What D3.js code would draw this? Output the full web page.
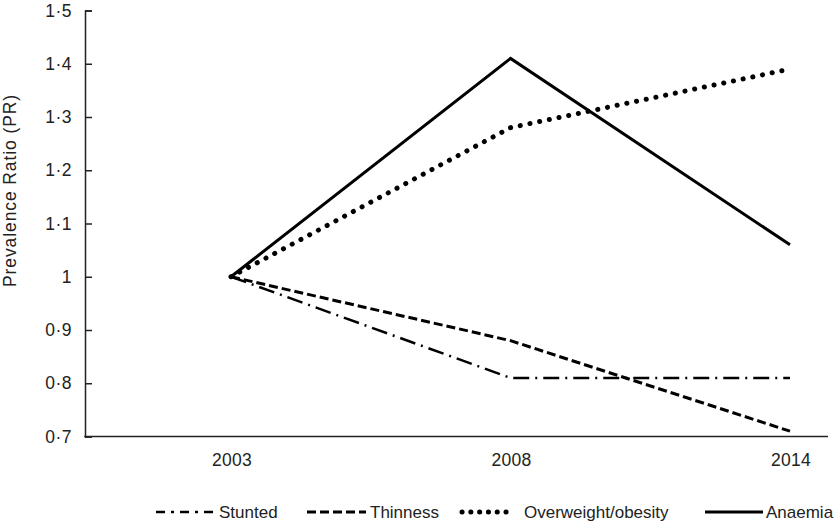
<!DOCTYPE html>
<html><head><meta charset="utf-8">
<script src="https://cdn.jsdelivr.net/npm/d3@7"></script>
<style>body{margin:0;background:#fff}text{font-family:"Liberation Sans",Arial,sans-serif;fill:#222}</style>
</head><body><svg id="c" width="835" height="523"></svg>
<script>
const years = ["2003","2008","2014"];
const stunted = [1.00, 0.81, 0.81];
const thinness = [1.00, 0.88, 0.71];
const overweight = [1.00, 1.28, 1.39];
const anaemia = [1.00, 1.41, 1.06];
const yTicks = [0.7,0.8,0.9,1.0,1.1,1.2,1.3,1.4,1.5];
const seriesNames = ["Stunted","Thinness","Overweight/obesity","Anaemia"];

const styles = {
  "Stunted": {dash:"16,6,2,6", w:2.5, cap:"butt", legDash:"9,6,3,6"},
  "Thinness": {dash:"9,4", w:3, cap:"butt", legDash:"9,4"},
  "Overweight/obesity": {dash:"0.1,9.8", w:5, cap:"round", legDash:"0.1,8.7"},
  "Anaemia": {dash:null, w:3, cap:"butt", legDash:null}
};
const data = {"Stunted":stunted,"Thinness":thinness,"Overweight/obesity":overweight,"Anaemia":anaemia};

const svg = d3.select("#c");
const x = d3.scalePoint().domain(years).range([231,790]);
const y = d3.scaleLinear().domain([0.7,1.5]).range([436.5,10.5]);
const fmt = d => (d===1 ? "1" : d3.format(".1f")(d).replace(".","·"));

const yAxis = d3.axisLeft(y).tickValues(yTicks).tickSize(-7).tickPadding(13).tickFormat(fmt);
const gy = svg.append("g").attr("transform","translate(85,0)").call(yAxis);
gy.select(".domain").attr("stroke","#222").attr("stroke-width",1.5);
gy.selectAll(".tick line").attr("stroke","#222").attr("stroke-width",1.5);
gy.selectAll(".tick text").style("font-size","17.5px").style("letter-spacing","0.5px").attr("fill","#222");

svg.append("line").attr("x1",84.25).attr("x2",828).attr("y1",y(0.7)).attr("y2",y(0.7))
  .attr("stroke","#222").attr("stroke-width",1.5);
svg.append("g").selectAll("text").data(years).join("text")
  .attr("x",d=>x(d)+1).attr("y",465.5).attr("text-anchor","middle")
  .style("font-size","17.5px").style("letter-spacing","0.3px").text(d=>d);

svg.append("text").attr("transform","translate(15.5,190.5) rotate(-90)")
  .attr("text-anchor","middle").style("font-size","17.5px").style("letter-spacing","0.9px").text("Prevalence Ratio (PR)");

const line = d3.line().x((d,i)=>x(years[i])).y(d=>y(d));
seriesNames.forEach(n=>{
  const s = styles[n];
  const p = svg.append("path").datum(data[n]).attr("d",line).attr("fill","none")
    .attr("stroke","#000").attr("stroke-width",s.w).attr("stroke-linecap",s.cap).attr("stroke-linejoin","miter");
  if (s.dash) p.attr("stroke-dasharray",s.dash);
});

const legendPos = [{x1:156,x2:213,tx:219},{x1:307,x2:366,tx:370},{x1:462,x2:513,tx:524},{x1:705,x2:763,tx:766}];
const lg = svg.append("g");
seriesNames.forEach((n,i)=>{
  const s = styles[n], L = legendPos[i];
  const ln = lg.append("line").attr("x1",L.x1).attr("x2",L.x2).attr("y1",512).attr("y2",512)
    .attr("stroke","#000").attr("stroke-width",s.w).attr("stroke-linecap",s.cap);
  if (s.legDash) ln.attr("stroke-dasharray", s.legDash);
  lg.append("text").attr("x",L.tx).attr("y",518).style("font-size","17px").text(n);
});
</script></body></html>
